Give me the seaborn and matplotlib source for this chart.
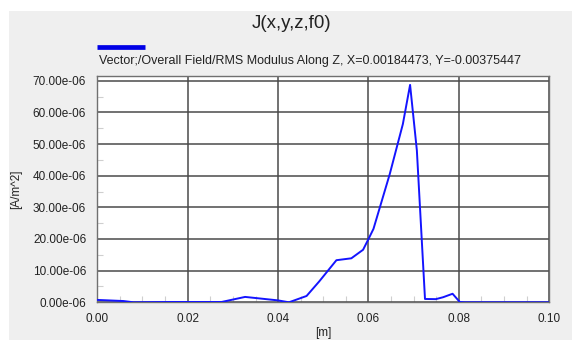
import matplotlib
matplotlib.use("Agg")
import matplotlib.pyplot as plt
from matplotlib.patches import Rectangle
from matplotlib.ticker import MultipleLocator, FuncFormatter
import seaborn as sns
import pandas as pd

# RMS current density modulus sampled along Z
z_m = [0.0, 0.0058, 0.008, 0.0168, 0.0275, 0.0327, 0.0400, 0.0424, 0.0463,
       0.0491, 0.0529, 0.0562, 0.0588, 0.0600, 0.0611, 0.0647, 0.0676, 0.0692,
       0.0707, 0.0725, 0.0749, 0.0765, 0.0786, 0.0802, 0.0813, 0.1]
j_micro = [0.75, 0.4, 0.0, 0.1, 0.1, 1.7, 0.6, 0.0, 2.0,
           6.6, 13.3, 13.9, 16.6, 20.0, 23.2, 40.5, 56.3, 68.7,
           48.0, 1.05, 1.0, 1.6, 2.7, 0.1, 0.0, 0.0]

title_text = "J(x,y,z,f0)"
legend_text = "Vector;/Overall Field/RMS Modulus Along Z, X=0.00184473, Y=-0.00375447"
x_label = "[m]"
y_label = "[A/m^2]"

df = pd.DataFrame({"z": z_m, "J": [v * 1e-6 for v in j_micro]})

sns.set_style("white")
plt.rcParams["font.family"] = ["Liberation Sans", "DejaVu Sans"]

W, H = 572, 340
fig = plt.figure(figsize=(W / 100, H / 100), dpi=100)
fig.patch.set_facecolor("white")
fig.patches.append(Rectangle((9 / W, 0), 1 - 9 / W, 1 - 11 / H,
                             transform=fig.transFigure, facecolor="#efefef",
                             edgecolor="none", zorder=-10))

ax = fig.add_axes([97.3 / W, 1 - 302.3 / H, (549.3 - 97.3) / W, (302.3 - 76) / H])
ax.set_facecolor("white")

sns.lineplot(data=df, x="z", y="J", ax=ax, color="#1414ff", linewidth=1.4,
             zorder=5, legend=False)

ax.set_xlim(0, 0.1)
ax.set_ylim(0, 71.5e-6)
ax.xaxis.set_major_locator(MultipleLocator(0.02))
ax.xaxis.set_minor_locator(MultipleLocator(0.005))
ax.yaxis.set_major_locator(MultipleLocator(10e-6))
ax.yaxis.set_minor_locator(MultipleLocator(5e-6))
ax.xaxis.set_major_formatter(FuncFormatter(lambda v, p: f"{v:.2f}"))
ax.yaxis.set_major_formatter(FuncFormatter(lambda v, p: f"{v * 1e6:.2f}e-06"))

ax.grid(True, which="major", color="#4a4a4a", linewidth=1.1)
ax.set_axisbelow(True)
for s in ax.spines.values():
    s.set_color("#707070")
    s.set_linewidth(1.0)

ax.tick_params(which="major", direction="out", length=6, width=1.0,
               color="#505050", labelsize=8.5, labelcolor="#222222", pad=2)
ax.tick_params(which="minor", direction="in", length=4, width=0.8,
               color="#cfcfcf", bottom=True, left=True)

ax.set_xlabel(x_label, fontsize=8.5, color="#222222", labelpad=1)
ax.set_ylabel(y_label, fontsize=8.5, color="#222222", labelpad=8)

fig.text(292 / W, 1 - 23 / H, title_text, ha="center", va="center",
         fontsize=13.5, color="#222222")
fig.add_artist(plt.Line2D([97 / W, 145 / W], [1 - 46.7 / H, 1 - 46.7 / H],
                          transform=fig.transFigure, color="#0000e6",
                          linewidth=3.4, solid_capstyle="butt"))
fig.text(99 / W, 1 - 61 / H, legend_text, ha="left", va="center",
         fontsize=9.0, color="#222222")

fig.savefig("out.png", dpi=100)
